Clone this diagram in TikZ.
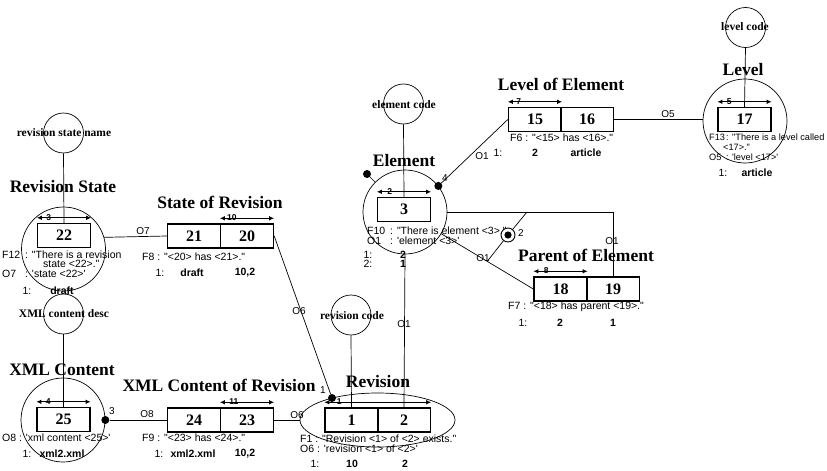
\documentclass[tikz,border=0pt]{standalone}
\usepackage{fontspec}
\setmainfont{Liberation Serif}
\newfontfamily\fsans{Liberation Sans}[Ligatures=TeXOff]
\usetikzlibrary{arrows.meta,shapes.geometric}
\newcommand\pfx[2][23pt]{\makebox[#1][l]{#2}}
\begin{document}
\begin{tikzpicture}[x=1pt,y=-1pt,
  ent/.style={draw,circle,line width=0.7pt,minimum size=84pt,inner sep=0pt},
  valc/.style={draw,circle,line width=0.7pt,minimum size=40pt,inner sep=0pt},
  vtxt/.style={inner sep=0pt,font=\fontsize{11.5}{12}\selectfont\bfseries},
  ttl/.style={inner sep=0pt,font=\fontsize{17.5}{18}\selectfont\bfseries},
  rbox/.style={draw,line width=1.4pt,minimum width=53pt,minimum height=24pt,inner sep=0pt,font=\fontsize{16}{16}\selectfont\bfseries},
  ftxt/.style={anchor=west,inner sep=0pt,font=\fsans\fontsize{10.5}{11}\selectfont},
  ftxs/.style={anchor=west,inner sep=0pt,font=\fsans\fontsize{9.2}{11}\selectfont},
  vals/.style={inner sep=0pt,font=\fsans\fontsize{10.5}{11}\selectfont\bfseries},
  num/.style={inner sep=0pt,font=\fsans\fontsize{10.5}{11}\selectfont},
  rlab/.style={inner sep=0pt,font=\fsans\fontsize{10}{11}\selectfont},
  conn/.style={line width=0.7pt},
  uarr/.style={line width=1.3pt,{Latex[length=5pt,width=4.5pt]}-{Latex[length=5pt,width=4.5pt]}},
  alab/.style={inner sep=0pt,anchor=south,font=\fsans\fontsize{8.5}{9}\selectfont\bfseries},
  dot/.style={circle,fill,inner sep=0pt,minimum size=8pt},
]
\useasboundingbox (0,0) rectangle (827,471);
\fill[white] (0,0) rectangle (827,471);
\clip (0,0) rectangle (827,471);

% ---------- Revision State ----------
\node[valc] (rsn) at (63.5,133) {};
\node[vtxt] (rsnt) at (64,133) {revision state name};
\node[ttl] (rst) at (63,187) {Revision State};
\node[ent] (rs) at (63.5,249) {};
\node[rbox] (b22) at (64,235.5) {22};
\draw[conn] (rsn.south) -- (b22.north);
\draw[uarr] ([yshift=5pt]b22.north west) -- ([yshift=5pt]b22.north east) node[alab,at start,xshift=12pt,yshift=-3pt] {3};
\node[ftxt] (f12a) at (2,255) {\pfx{F12}: "There is a revision};
\node[ftxt] (f12b) at (43,264) {state <22>."};
\node[ftxt] (o7t) at (2,274) {\pfx{O7}: 'state <22>'};
\node[num] (rs1) at (27,291) {1:};
\node[vals] (rs1v) at (62,291) {draft};

% ---------- State of Revision ----------
\node[ttl] (sort) at (220,202) {State of Revision};
\node[rbox] (b21) at (194,236) {21};
\node[rbox] (b20) at (247,236) {20};
\draw[uarr] ([yshift=5pt]b20.north west) -- ([yshift=5pt]b20.north east) node[alab,at start,xshift=12pt,yshift=-3pt] {10};
\draw[conn] (b21.west) -- (rs.16);
\node[rlab] (o7l) at (143,231) {O7};
\node[ftxt] (f8) at (142,257) {F8 : "<20> has <21>."};
\node[num] (sr1) at (160,273) {1:};
\node[vals] (sr1a) at (192,273) {draft};
\node[vals] (sr1b) at (245,273) {10,2};

% ---------- XML Content ----------
\node[valc] (xcd) at (63.5,314) {};
\node[vtxt] (xcdt) at (64,314) {XML content desc};
\node[ttl] (xct) at (62,370) {XML Content};
\node[ent] (xc) at (63,420) {};
\node[rbox] (b25) at (63.5,419.5) {25};
\draw[conn] (xcd.south) -- (b25.north);
\draw[uarr] ([yshift=5pt]b25.north west) -- ([yshift=5pt]b25.north east) node[alab,at start,xshift=12pt,yshift=-3pt] {4};
\node[dot] (xdot) at (xc.east) {};
\node[rlab] (x3) at (112,411) {3};
\node[ftxt] (o8t) at (2,438) {O8 : 'xml content <25>'};
\node[num] (xc1) at (27,454) {1:};
\node[vals] (xc1v) at (62,454) {xml2.xml};

% ---------- XML Content of Revision ----------
\node[ttl] (xcrt) at (219,385) {XML Content of Revision};
\node[rbox] (b24) at (194,420) {24};
\node[rbox] (b23) at (247,420) {23};
\draw[uarr] ([yshift=5pt]b23.north west) -- ([yshift=5pt]b23.north east) node[alab,at start,xshift=14pt,yshift=-3pt] {11};
\draw[conn] (xdot) -- (b24.west);
\node[rlab] (o8l) at (147,414) {O8};
\node[ftxt] (f9) at (142,438) {F9 : "<23> has <24>."};
\node[num] (xr1) at (159,454) {1:};
\node[vals] (xr1a) at (193,454) {xml2.xml};
\node[vals] (xr1b) at (245,454) {10,2};

% ---------- Revision ----------
\node[valc] (rcode) at (351,315) {};
\node[vtxt] (rcodet) at (352,316) {revision code};
\node[ttl] (revt) at (378,382) {Revision};
\node[draw,ellipse,line width=0.7pt,minimum width=155pt,minimum height=54pt,inner sep=0pt] (rev) at (377.5,420) {};
\node[rbox] (b1) at (351.5,420) {1};
\node[rbox] (b2) at (404,420) {2};
\draw[uarr] ([yshift=5pt]b1.north west) -- ([yshift=5pt]b2.north east) node[alab,at start,xshift=15pt,yshift=-3pt] {1};
\draw[conn] (rcode.south) -- (b1.north);
\draw[conn] (b23.east) -- (rev.west);
\node[rlab] (o6l) at (297,415) {O6};
\node[dot] (rdot) at (332,398) {};
\node[rlab] (rd1) at (323,390) {1};
\draw[conn] (b20.east) -- (rdot);
\node[rlab] (o6m) at (299,311) {O6};
\node[ftxt] (f1) at (300,439) {F1 : "Revision <1> of <2> exists."};
\node[ftxt] (o6t) at (300,449) {O6 : 'revision <1> of <2>'};
\node[num] (rv1) at (315,464) {1:};
\node[vals] (rv1a) at (352,464) {10};
\node[vals] (rv1b) at (405,464) {2};

% ---------- Element ----------
\node[valc] (ecode) at (403.5,104) {};
\node[vtxt] (ecodet) at (404,105) {element code};
\node[ttl] (elt) at (404,161) {Element};
\node[ent] (el) at (405,212) {};
\node[rbox] (b3) at (404,209.5) {3};
\draw[conn] (ecode.south) -- (b3.north);
\draw[uarr] ([yshift=5pt]b3.north west) -- ([yshift=5pt]b3.north east) node[alab,at start,xshift=13pt,yshift=-3pt] {2};
\node[dot] (mdot) at (367,174) {};
\draw[conn] (mdot) -- (el.135);
\node[dot] (edot) at (el.38) {};
\node[rlab] (e4) at (445,178) {4};
\draw[conn] (el.south) -- (b2.north);
\node[rlab] (o1v) at (404,324) {O1};
\node[ftxt] (f10) at (367,231) {\pfx{F10}: "There is element <3>."};
\node[ftxt] (o1t) at (367,241) {\pfx{O1}: 'element <3>'};
\node[num] (el1) at (368,255) {1:};
\node[vals] (el1v) at (403,255) {2};
\node[num] (el2) at (368,264) {2:};
\node[vals] (el2v) at (403,264) {1};

% ---------- Level of Element ----------
\node[ttl] (loet) at (561,84) {Level of Element};
\node[rbox] (b15) at (535,119.5) {15};
\node[rbox] (b16) at (587,119.5) {16};
\draw[uarr] ([yshift=5pt]b15.north west) -- ([yshift=5pt]b15.north east) node[alab,at start,xshift=11pt,yshift=-3pt] {7};
\draw[conn] (edot) -- (b15.west);
\node[rlab] (o1a) at (482,156) {O1};
\node[ftxt] (f6) at (510,138) {F6 : "<15> has <16>."};
\node[num] (le1) at (498,153) {1:};
\node[vals] (le1a) at (535,153) {2};
\node[vals] (le1b) at (586,153) {article};

% ---------- Level ----------
\node[valc] (lcode) at (745.5,27.5) {};
\node[vtxt] (lcodet) at (745,27) {level code};
\node[ttl] (lvt) at (743,70) {Level};
\node[ent] (lv) at (745,121) {};
\node[rbox] (b17) at (744.5,119.5) {17};
\draw[conn] (lcode.south) -- (b17.north);
\draw[uarr] ([yshift=5pt]b17.north west) -- ([yshift=5pt]b17.north east) node[alab,at start,xshift=12pt,yshift=-3pt] {5};
\draw[conn] (b16.east) -- (b16.east -| lv.west);
\node[rlab] (o5l) at (668,114) {O5};
\node[ftxs] (f13a) at (709,137) {\pfx[17pt]{F13}: "There is a level called};
\node[ftxs] (f13b) at (723,147) {<17>."};
\node[ftxs] (o5t) at (709,157) {\pfx[17pt]{O5}: 'level <17>'};
\node[num] (lv1) at (723,173) {1:};
\node[vals] (lv1v) at (757,173) {article};

% ---------- Parent of Element ----------
\node[ttl] (poet) at (586,255) {Parent of Element};
\node[rbox] (b18) at (560.5,289) {18};
\node[rbox] (b19) at (613,289) {19};
\draw[uarr] ([yshift=5pt]b18.north west) -- ([yshift=5pt]b18.north east) node[alab,at start,xshift=13pt,yshift=-3pt] {8};
\draw[conn] (el.east) -- (b19.north |- el.east) -- (b19.north);
\draw[conn] (el) -- (b18.west);
\node[rlab] (o1b) at (612,241) {O1};
\node[rlab] (o1c) at (483,258) {O1};
\coordinate (ix1) at (527,212);
\coordinate (ix2) at (487.5,261);
\node[draw,circle,line width=0.9pt,minimum size=14pt,inner sep=0pt] (incl) at (508,235) {};
\fill (incl.center) circle (3.6pt);
\draw[conn] (incl) -- (ix1);
\draw[conn] (incl) -- (ix2);
\node[rlab] (inc2) at (521,233) {2};
\node[ftxt] (f7) at (508,307) {F7 : "<18> has parent <19>."};
\node[num] (pe1) at (523,323) {1:};
\node[vals] (pe1a) at (560,323) {2};
\node[vals] (pe1b) at (613,323) {1};
\end{tikzpicture}
\end{document}
